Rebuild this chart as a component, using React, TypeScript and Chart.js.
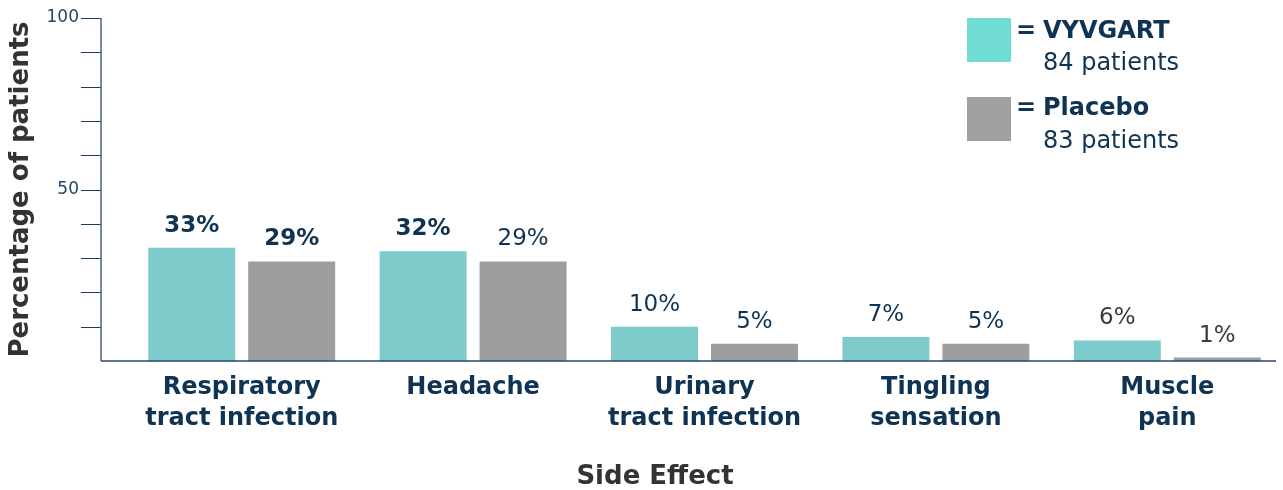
import React, { useEffect, useRef } from "react";
import { Chart, registerables } from "chart.js";

Chart.register(...registerables);

const categories: string[][] = [
  ["Respiratory", "tract infection"],
  ["Headache"],
  ["Urinary", "tract infection"],
  ["Tingling", "sensation"],
  ["Muscle", "pain"],
];
const vyvgartValues = [33, 32, 10, 7, 6];
const placeboValues = [29, 29, 5, 5, 1];
const vyvgartLabelWeights = ["700", "700", "400", "400", "400"];
const placeboLabelWeights = ["700", "400", "400", "400", "400"];
const vyvgartLabelColors = ["#0f3352", "#0f3352", "#0f3352", "#0f3352", "#3a3a3a"];
const placeboLabelColors = ["#0f3352", "#0f3352", "#0f3352", "#0f3352", "#3a3a3a"];
const yTickLabels = [100, 50];
const yMinorStep = 10;

const FONT = "'DejaVu Sans', 'Open Sans', sans-serif";
const NAVY = "#0f3352";

const axesPlugin = {
  id: "customAxes",
  afterDraw(chart: any) {
    const { ctx, chartArea, scales } = chart;
    const y = scales.y;
    const axisX = chartArea.left - 25;
    const y0 = y.getPixelForValue(0);
    const y100 = y.getPixelForValue(100);
    ctx.save();
    ctx.strokeStyle = "#1d3b5a";
    ctx.lineWidth = 1;
    for (let v = yMinorStep; v <= 100; v += yMinorStep) {
      const py = Math.round(y.getPixelForValue(v)) + 0.5;
      ctx.beginPath();
      ctx.moveTo(axisX - 20, py);
      ctx.lineTo(axisX, py);
      ctx.stroke();
    }
    ctx.strokeStyle = "#4c6380";
    ctx.lineWidth = 1.5;
    ctx.beginPath();
    ctx.moveTo(axisX, y100);
    ctx.lineTo(axisX, y0);
    ctx.stroke();
    ctx.strokeStyle = "#2b4766";
    ctx.beginPath();
    ctx.moveTo(axisX, y0);
    ctx.lineTo(chartArea.right - 7, y0);
    ctx.stroke();
    ctx.fillStyle = "#244866";
    ctx.font = `400 17px ${FONT}`;
    ctx.textAlign = "right";
    ctx.textBaseline = "middle";
    yTickLabels.forEach((v) => {
      ctx.fillText(String(v), axisX - 22, y.getPixelForValue(v));
    });
    ctx.fillStyle = "#333333";
    ctx.font = `700 26px ${FONT}`;
    ctx.textAlign = "center";
    ctx.fillText("Side Effect", 655, 477);
    ctx.restore();
  },
};

const valueLabelPlugin = {
  id: "valueLabels",
  afterDatasetsDraw(chart: any) {
    const { ctx } = chart;
    const weights = [vyvgartLabelWeights, placeboLabelWeights];
    const colors = [vyvgartLabelColors, placeboLabelColors];
    ctx.save();
    ctx.textAlign = "center";
    ctx.textBaseline = "middle";
    chart.data.datasets.forEach((ds: any, di: number) => {
      const meta = chart.getDatasetMeta(di);
      meta.data.forEach((bar: any, i: number) => {
        ctx.font = `${weights[di][i]} 23px ${FONT}`;
        ctx.fillStyle = colors[di][i];
        ctx.fillText(`${ds.data[i]}%`, bar.x, bar.y - 22);
      });
    });
    ctx.restore();
  },
};

function ChartCanvas() {
  const ref = useRef<HTMLCanvasElement | null>(null);
  useEffect(() => {
    if (!ref.current) return;
    const chart = new Chart(ref.current, {
      type: "bar",
      data: {
        labels: categories as any,
        datasets: [
          {
            label: "VYVGART",
            data: vyvgartValues,
            backgroundColor: "#7ecbcc",
            categoryPercentage: 0.864,
            barPercentage: 0.87,
          },
          {
            label: "Placebo",
            data: placeboValues,
            backgroundColor: "#9d9e9e",
            categoryPercentage: 0.864,
            barPercentage: 0.87,
          },
        ],
      },
      options: {
        animation: false,
        responsive: false,
        maintainAspectRatio: false,
        layout: { padding: { top: 18, right: 0, left: 0, bottom: 0 } },
        plugins: {
          legend: { display: false },
          tooltip: { enabled: false },
        },
        scales: {
          x: {
            offset: true,
            grid: { display: false },
            border: { display: false },
            ticks: {
              color: NAVY,
              font: { family: FONT, size: 24, weight: "bold", lineHeight: 1.3 },
              padding: 3,
              maxRotation: 0,
              autoSkip: false,
            },
            afterFit: (scale: any) => {
              scale.height = 129;
            },
          },
          y: {
            min: 0,
            max: 100,
            grid: { display: false },
            border: { display: false },
            ticks: { display: false, stepSize: 10 },
            title: {
              display: true,
              text: "Percentage of patients",
              color: "#333333",
              font: { family: FONT, size: 26, weight: "bold" },
              padding: { top: 6, bottom: 0 },
            },
            afterFit: (scale: any) => {
              scale.width = 126;
            },
          },
        },
      },
      plugins: [axesPlugin, valueLabelPlugin],
    });
    return () => chart.destroy();
  }, []);
  return <canvas ref={ref} width={1283} height={490} style={{ display: "block" }} />;
}

const legendText: React.CSSProperties = {
  position: "absolute",
  fontFamily: FONT,
  fontSize: 24,
  color: NAVY,
  whiteSpace: "nowrap",
  lineHeight: "30px",
};

export default function App() {
  return (
    <div style={{ position: "fixed", left: 0, top: 0, width: 1283, height: 490, background: "#fff" }}>
      <ChartCanvas />
      <div style={{ position: "absolute", left: 967, top: 18, width: 44, height: 44, background: "#70dcd4" }} />
      <div style={{ ...legendText, left: 1016, top: 15, fontWeight: 700 }}>=</div>
      <div style={{ ...legendText, left: 1043, top: 15, fontWeight: 700 }}>VYVGART</div>
      <div style={{ ...legendText, left: 1043, top: 47, fontWeight: 400 }}>84 patients</div>
      <div style={{ position: "absolute", left: 967, top: 97, width: 44, height: 44, background: "#a0a0a2" }} />
      <div style={{ ...legendText, left: 1016, top: 92, fontWeight: 700 }}>=</div>
      <div style={{ ...legendText, left: 1043, top: 92, fontWeight: 700 }}>Placebo</div>
      <div style={{ ...legendText, left: 1043, top: 125, fontWeight: 400 }}>83 patients</div>
    </div>
  );
}
